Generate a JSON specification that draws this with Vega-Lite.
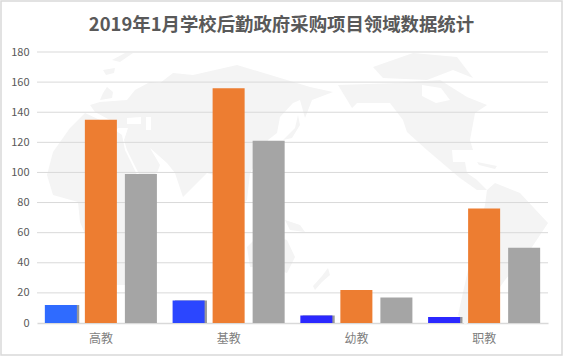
{
"$schema":"https://vega.github.io/schema/vega-lite/v6.json",
"autosize":{"type":"none"},
"padding":{"left":1,"top":1,"right":2,"bottom":1},
"width":561,"height":354,
"background":"white",
"config":{"view":{"stroke":"#d9d9d9","strokeWidth":1.5},"font":"Noto Sans CJK SC"},
"title":{"text":"2019年1月学校后勤政府采购项目领域数据统计","fontSize":18.4,"fontWeight":"bold","color":"#595959","anchor":"middle","offset":-33,"font":"Noto Sans CJK SC"},
"datasets":{
"bars":[
{"领域":"高教","系列":"a","数量":12,"色":"#2F6BFF"},
{"领域":"高教","系列":"b","数量":135,"色":"#ED7D31"},
{"领域":"高教","系列":"c","数量":99,"色":"#A5A5A5"},
{"领域":"基教","系列":"a","数量":15,"色":"#2B46FF"},
{"领域":"基教","系列":"b","数量":156,"色":"#ED7D31"},
{"领域":"基教","系列":"c","数量":121,"色":"#A5A5A5"},
{"领域":"幼教","系列":"a","数量":5,"色":"#2B28FF"},
{"领域":"幼教","系列":"b","数量":22,"色":"#ED7D31"},
{"领域":"幼教","系列":"c","数量":17,"色":"#A5A5A5"},
{"领域":"职教","系列":"a","数量":4,"色":"#2B28FF"},
{"领域":"职教","系列":"b","数量":76,"色":"#ED7D31"},
{"领域":"职教","系列":"c","数量":50,"色":"#A5A5A5"}
],
"grid":[{"v":20},{"v":40},{"v":60},{"v":80},{"v":100},{"v":120},{"v":140},{"v":160},{"v":180}],
"map":[
{"type":"Feature","properties":{"n":"Eurasia"},"geometry":{"type":"Polygon","coordinates":[
[[-154,88],[-146,98],[-131,106],[-121,105],[-108,115],[-88,113],[-44,123],[-4,111],[29,101],[52,96],[31,88],[24,70],[19,88],[12,85],[-1,71],[-4,55],[-13,48],[-21,31],[-31,15],[-34,-12],[-43,-22],[-49,8],[-74,15],[-98,-9],[-106,15],[-114,25],[-131,40],[-121,23],[-124,15],[-139,8],[-154,38],[-157,48],[-153,60],[-163,60],[-166,56],[-171,68],[-186,76],[-191,83],[-181,86],[-154,88]],
[[-154,70],[-154,64],[-140,64],[-140,71],[-154,70]],
[[-135,71],[-135,58],[-130,58],[-130,71],[-135,71]]
]}},
{"type":"Feature","properties":{"n":"Africa"},"geometry":{"type":"Polygon","coordinates":[[[-196,75],[-181,68],[-159,53],[-156,38],[-139,3],[-131,-27],[-141,-62],[-156,-97],[-176,-97],[-184,-74],[-201,-34],[-203,-14],[-228,-7],[-234,13],[-228,36],[-211,60],[-196,75]]]}},
{"type":"Feature","properties":{"n":"North America"},"geometry":{"type":"Polygon","coordinates":[
[[57,103],[116,105],[159,108],[186,91],[206,83],[194,75],[189,48],[192,38],[171,38],[172,26],[184,26],[186,15],[196,8],[206,-2],[196,-2],[179,10],[166,21],[146,38],[126,56],[122,68],[109,85],[76,85],[71,80],[57,103]],
[[141,103],[141,92],[155,85],[169,88],[160,100],[141,103]]
]}},
{"type":"Feature","properties":{"n":"Greenland"},"geometry":{"type":"Polygon","coordinates":[[[92,121],[132,135],[176,131],[192,110],[172,118],[146,108],[102,110],[92,121]]]}},
{"type":"Feature","properties":{"n":"Cuba"},"geometry":{"type":"Polygon","coordinates":[[[196,26],[216,22],[214,19],[198,23],[196,26]]]}},
{"type":"Feature","properties":{"n":"South America"},"geometry":{"type":"Polygon","coordinates":[[[206,-2],[214,5],[239,-5],[267,-35],[249,-62],[224,-92],[199,-127],[184,-137],[177,-127],[187,-82],[199,-37],[204,-17],[206,-2]]]}},
{"type":"Feature","properties":{"n":"Australia"},"geometry":{"type":"Polygon","coordinates":[[[-34,-59],[-24,-49],[-4,-49],[6,-52],[14,-69],[6,-85],[-14,-79],[-31,-79],[-34,-59]]]}},
{"type":"Feature","properties":{"n":"New Guinea"},"geometry":{"type":"Polygon","coordinates":[[[4,-32],[19,-37],[24,-44],[9,-42],[4,-32]]]}},
{"type":"Feature","properties":{"n":"Japan"},"geometry":{"type":"Polygon","coordinates":[[[2,48],[14,60],[17,73],[19,63],[11,50],[2,48]]]}},
{"type":"Feature","properties":{"n":"New Zealand"},"geometry":{"type":"Polygon","coordinates":[[[47,-80],[49,-87],[41,-94],[34,-102],[32,-98],[41,-88],[47,-80]]]}},
{"type":"Feature","properties":{"n":"Britain"},"geometry":{"type":"Polygon","coordinates":[[[-174,101],[-168,96],[-169,90],[-181,88],[-178,95],[-174,101]]]}},
{"type":"Feature","properties":{"n":"Iceland"},"geometry":{"type":"Polygon","coordinates":[[[-178,118],[-166,120],[-167,115],[-175,113],[-178,118]]]}},
{"type":"Feature","properties":{"n":"Svalbard"},"geometry":{"type":"Polygon","coordinates":[[[-169,128],[-156,135],[-148,135],[-161,126],[-169,128]]]}}
]
},
"layer":[
{"data":{"name":"map"},
 "projection":{"type":"identity","reflectY":true,"scale":1,"translate":[280,187]},
 "mark":{"type":"geoshape","fill":"#f4f4f4","stroke":null}},
{"encoding":{
"x":{"field":"领域","type":"nominal","sort":["高教","基教","幼教","职教"],
 "scale":{"domain":["高教","基教","幼教","职教"],"range":[36,547],"paddingInner":0,"paddingOuter":0},
 "axis":{"title":null,"orient":"bottom","offset":-32,"domainColor":"#d9d9d9","domainWidth":1.5,"ticks":false,"labelAngle":0,"labelFontSize":12,"labelColor":"#7f7f7f","labelPadding":10,"grid":false}},
"y":{"field":"数量","type":"quantitative",
 "scale":{"domain":[0,180],"range":[322,51],"nice":false},
 "axis":{"title":null,"orient":"left","offset":-37,"domain":false,"ticks":false,"grid":false,"values":[0,20,40,60,80,100,120,140,160,180],"labelFontSize":11,"labelColor":"#595959","labelPadding":9}}
},
"layer":[
{"data":{"name":"grid"},
 "mark":{"type":"rule","color":"#d9d9d9","strokeWidth":1},
 "encoding":{
  "y":{"field":"v","type":"quantitative"},
  "x":{"datum":"高教","bandPosition":0},
  "x2":{"datum":"职教","bandPosition":1}
 }},
{"data":{"name":"bars"},"transform":[{"filter":"datum.系列==='a'"}],
 "mark":{"type":"bar","color":"#6e6e6e","opacity":0.7},
 "encoding":{"xOffset":{"field":"系列","type":"nominal","scale":{"domain":["a","b","c"],"paddingInner":0.2,"paddingOuter":0.196,"align":0.65}}}},
{"data":{"name":"bars"},
 "mark":{"type":"bar"},
 "encoding":{
  "xOffset":{"field":"系列","type":"nominal","scale":{"domain":["a","b","c"],"paddingInner":0.2,"paddingOuter":0.196}},
  "color":{"field":"色","type":"nominal","scale":null,"legend":null}
 }}
],
"resolve":{"scale":{"xOffset":"independent"}}
}
]
}
